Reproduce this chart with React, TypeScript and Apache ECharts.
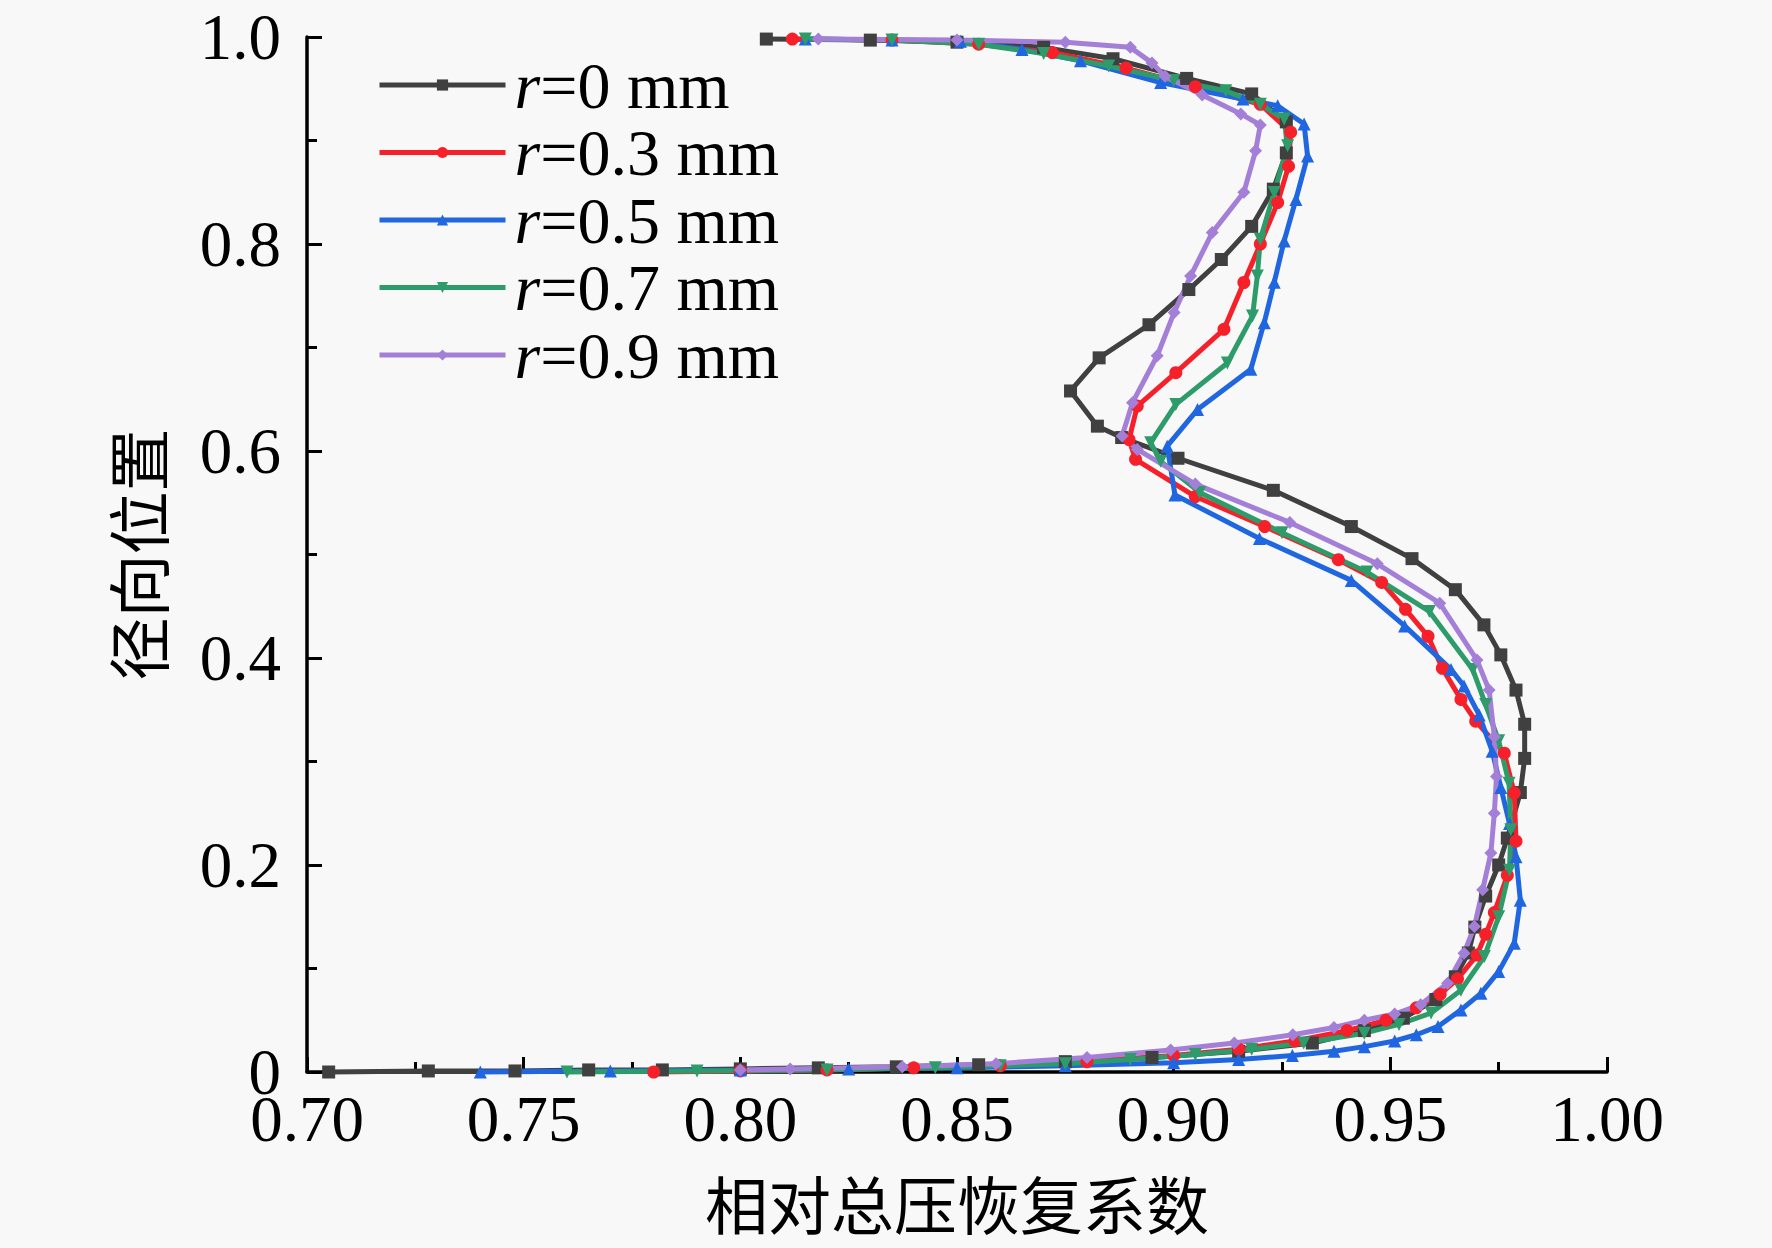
import React, { useEffect, useRef } from 'react';
import * as echarts from 'echarts';

// Series names
const seriesNames = ['r=0 mm', 'r=0.3 mm', 'r=0.5 mm', 'r=0.7 mm', 'r=0.9 mm'];

// [relative total pressure recovery coefficient, radial position]
const r0: number[][] = [
  [0.705, 0.000], [0.728, 0.001], [0.748, 0.001], [0.765, 0.002], [0.782, 0.002],
  [0.800, 0.003], [0.818, 0.004], [0.836, 0.005], [0.855, 0.007], [0.875, 0.010],
  [0.895, 0.014], [0.915, 0.020], [0.932, 0.028], [0.944, 0.040], [0.953, 0.052],
  [0.9605, 0.070], [0.965, 0.092], [0.968, 0.115], [0.9695, 0.140], [0.972, 0.170],
  [0.975, 0.200], [0.977, 0.226], [0.980, 0.270], [0.981, 0.303], [0.981, 0.336],
  [0.979, 0.369], [0.9755, 0.403], [0.9716, 0.432], [0.965, 0.466], [0.955, 0.496],
  [0.941, 0.527], [0.923, 0.562], [0.901, 0.593], [0.888, 0.613], [0.8824, 0.624],
  [0.8762, 0.658], [0.8828, 0.690], [0.8943, 0.722], [0.9035, 0.756], [0.911, 0.785],
  [0.918, 0.817], [0.923, 0.853], [0.926, 0.888], [0.926, 0.918], [0.918, 0.945],
  [0.903, 0.960], [0.886, 0.979], [0.870, 0.990], [0.850, 0.995], [0.830, 0.997],
  [0.806, 0.998],
];

const r03: number[][] = [
  [0.780, 0.000], [0.800, 0.001], [0.820, 0.002], [0.840, 0.004], [0.860, 0.006],
  [0.880, 0.010], [0.900, 0.016], [0.915, 0.022], [0.928, 0.030], [0.940, 0.040],
  [0.949, 0.050], [0.956, 0.062], [0.9615, 0.075], [0.9655, 0.090], [0.970, 0.113],
  [0.972, 0.133], [0.974, 0.154], [0.977, 0.190], [0.979, 0.223], [0.9786, 0.2695],
  [0.9763, 0.308], [0.9697, 0.339], [0.9663, 0.360], [0.962, 0.390], [0.9587, 0.421],
  [0.9535, 0.447], [0.948, 0.473], [0.938, 0.495], [0.921, 0.527], [0.905, 0.556],
  [0.8912, 0.592], [0.8897, 0.611], [0.8916, 0.6434], [0.9005, 0.6757], [0.9116, 0.7176],
  [0.9162, 0.7628], [0.920, 0.800], [0.924, 0.840], [0.9265, 0.875], [0.927, 0.908],
  [0.920, 0.935], [0.905, 0.952], [0.889, 0.970], [0.872, 0.985], [0.855, 0.993],
  [0.835, 0.997], [0.812, 0.998],
];

const r05: number[][] = [
  [0.740, 0.000], [0.770, 0.001], [0.800, 0.002], [0.825, 0.003], [0.850, 0.004],
  [0.875, 0.006], [0.900, 0.009], [0.915, 0.012], [0.9274, 0.016], [0.937, 0.020],
  [0.944, 0.0245], [0.951, 0.030], [0.956, 0.036], [0.961, 0.044], [0.9663, 0.060],
  [0.9709, 0.076], [0.975, 0.097], [0.9786, 0.1245], [0.980, 0.166], [0.979, 0.208],
  [0.9775, 0.240], [0.9755, 0.275], [0.9735, 0.310], [0.9705, 0.345], [0.967, 0.373],
  [0.964, 0.389], [0.9533, 0.431], [0.941, 0.475], [0.9198, 0.5155], [0.9003, 0.5575],
  [0.8985, 0.6047], [0.9055, 0.640], [0.9178, 0.679], [0.9209, 0.724], [0.9232, 0.763],
  [0.9255, 0.803], [0.9282, 0.843], [0.9309, 0.885], [0.9301, 0.916], [0.924, 0.9336],
  [0.916, 0.940], [0.897, 0.956], [0.8785, 0.977], [0.865, 0.988], [0.8508, 0.996],
  [0.835, 0.997], [0.815, 0.998],
];

const r07: number[][] = [
  [0.760, 0.000], [0.790, 0.001], [0.820, 0.002], [0.845, 0.004], [0.860, 0.006],
  [0.875, 0.008], [0.890, 0.012], [0.905, 0.017], [0.918, 0.022], [0.930, 0.028],
  [0.944, 0.0375], [0.952, 0.046], [0.9594, 0.057], [0.9663, 0.079], [0.9717, 0.1115],
  [0.975, 0.150], [0.9775, 0.195], [0.9778, 0.234], [0.9774, 0.279], [0.975, 0.320],
  [0.972, 0.355], [0.969, 0.389], [0.959, 0.445], [0.9446, 0.483], [0.925, 0.521],
  [0.906, 0.560], [0.897, 0.590], [0.8947, 0.608], [0.9005, 0.645], [0.9124, 0.685],
  [0.9182, 0.7305], [0.9193, 0.769], [0.920, 0.8046], [0.9232, 0.8498], [0.9263, 0.895],
  [0.9255, 0.9207], [0.920, 0.935], [0.912, 0.948], [0.900, 0.958], [0.885, 0.972],
  [0.870, 0.984], [0.855, 0.993], [0.835, 0.997], [0.815, 0.998],
];

const r09: number[][] = [
  [0.800, 0.002], [0.8115, 0.003], [0.8374, 0.005], [0.859, 0.008], [0.880, 0.014],
  [0.8993, 0.0213], [0.914, 0.028], [0.9275, 0.036], [0.937, 0.043], [0.944, 0.050],
  [0.951, 0.056], [0.957, 0.065], [0.9632, 0.0858], [0.967, 0.1148], [0.9694, 0.1405],
  [0.9713, 0.176], [0.9732, 0.2115], [0.974, 0.250], [0.9745, 0.2856], [0.974, 0.324],
  [0.9728, 0.369], [0.970, 0.398], [0.9614, 0.453], [0.947, 0.491], [0.9268, 0.531],
  [0.905, 0.568], [0.8916, 0.6015], [0.8881, 0.6145], [0.8905, 0.6467], [0.8962, 0.692],
  [0.9001, 0.7337], [0.9039, 0.769], [0.9089, 0.811], [0.9162, 0.850], [0.9189, 0.890],
  [0.920, 0.915], [0.9155, 0.9257], [0.9066, 0.944], [0.898, 0.962], [0.895, 0.975],
  [0.890, 0.990], [0.875, 0.995], [0.850, 0.997], [0.818, 0.998],
];

const seriesData = [r0, r03, r05, r07, r09];
const seriesColors = ['#404040', '#f5202a', '#1f66e0', '#2e9c6a', '#a47fd8'];
const seriesSymbols = ['rect', 'circle', 'triangle', 'triangle', 'diamond'];
const seriesSymbolRotate = [0, 0, 0, 180, 0];

const xAxisName = '相对总压恢复系数';
const yAxisName = '径向位置';

const SERIF = '"Liberation Serif", "Times New Roman", serif';
const CJK = '"Noto Sans CJK SC", "Noto Sans CJK JP", sans-serif';

export default function App() {
  const ref = useRef<HTMLDivElement>(null);

  useEffect(() => {
    if (!ref.current) return;
    const chart = echarts.init(ref.current, undefined, { renderer: 'svg' });
    const option: any = {
      animation: false,
      backgroundColor: '#f8f8f8',
      grid: { left: 307, right: 165, top: 37, bottom: 176, containLabel: false },
      legend: {
        orient: 'vertical',
        left: 372,
        top: 47,
        itemWidth: 126,
        itemHeight: 14,
        itemGap: 1.5,
        data: seriesNames,
        lineStyle: { width: 5 },
        formatter: (name: string) => name.replace(/^r=/, '{i|r}='),
        textStyle: {
          fontSize: 66,
          fontFamily: SERIF,
          color: '#000',
          lineHeight: 66,
          padding: [0, 0, 0, 4],
          rich: {
            i: { fontStyle: 'italic', fontSize: 66, fontFamily: SERIF, color: '#000', lineHeight: 66 },
          },
        },
      },
      xAxis: {
        type: 'value',
        min: 0.7,
        max: 1.0,
        interval: 0.05,
        name: xAxisName,
        nameLocation: 'middle',
        nameGap: 98,
        nameTextStyle: { fontSize: 63, fontFamily: CJK, color: '#000' },
        axisLine: { show: true, onZero: false, lineStyle: { color: '#000', width: 3.5 } },
        axisTick: { show: true, inside: true, length: 15, lineStyle: { color: '#000', width: 3 } },
        minorTick: { show: true, splitNumber: 2, length: 10, lineStyle: { color: '#000', width: 3 } },
        axisLabel: {
          formatter: (v: number) => v.toFixed(2),
          fontSize: 65,
          lineHeight: 50,
          fontFamily: SERIF,
          color: '#000',
          margin: 22,
        },
        splitLine: { show: false },
        minorSplitLine: { show: false },
      },
      yAxis: {
        type: 'value',
        min: 0,
        max: 1,
        interval: 0.2,
        name: yAxisName,
        nameLocation: 'middle',
        nameGap: 140,
        nameRotate: 90,
        nameTextStyle: { fontSize: 63, fontFamily: CJK, color: '#000' },
        axisLine: { show: true, onZero: false, lineStyle: { color: '#000', width: 3.5 } },
        axisTick: { show: true, inside: true, length: 15, lineStyle: { color: '#000', width: 3 } },
        minorTick: { show: true, splitNumber: 2, length: 10, lineStyle: { color: '#000', width: 3 } },
        axisLabel: {
          formatter: (v: number) => (v === 0 ? '0' : v.toFixed(1)),
          fontSize: 65,
          lineHeight: 46,
          fontFamily: SERIF,
          color: '#000',
          margin: 26,
        },
        splitLine: { show: false },
        minorSplitLine: { show: false },
      },
      series: seriesNames.map((name, i) => ({
        name,
        type: 'line',
        data: seriesData[i],
        symbol: seriesSymbols[i],
        symbolRotate: seriesSymbolRotate[i],
        symbolSize: 13,
        showSymbol: true,
        showAllSymbol: true,
        smooth: false,
        clip: false,
        color: seriesColors[i],
        lineStyle: { color: seriesColors[i], width: 5 },
        itemStyle: { color: seriesColors[i] },
        emphasis: { disabled: true },
      })),
    };
    chart.setOption(option);
    return () => {
      chart.dispose();
    };
  }, []);

  return (
    <div
      ref={ref}
      style={{ position: 'absolute', left: 0, top: 0, width: 1772, height: 1248 }}
    />
  );
}
